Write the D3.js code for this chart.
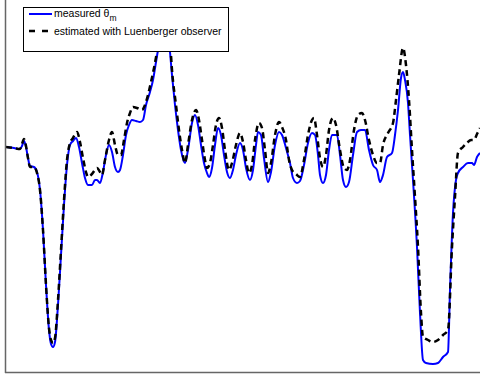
<!DOCTYPE html>
<html>
<head>
<meta charset="utf-8">
<script src="https://cdn.jsdelivr.net/npm/d3@7"></script>
<style>
  html, body { margin: 0; padding: 0; background: #fff; }
  svg { display: block; }
</style>
</head>
<body>
<svg id="svg"></svg>
<script>
// sample index and angle values
const measuredT = [6,14,20,22,24,26,28,30,34,37,40,43,46,49,51,53,55,58,61,64,67,70,73,76,79,82,85,88,92,95,97,100,103,106,109,112,115,118,120,123,126,129,132,136,140,143,146,150,153,156,158,162,165,168,170,172,175,178,181,185,188,192,195,198,201,204,207,209,212,215,218,221,224,227,230,233,236,240,243,246,250,253,256,258,261,264,268,271,275,279,282,286,290,293,297,300,304,308,312,315,318,320,323,326,329,332,337,340,343,346,349,353,357,361,365,369,373,377,380,383,387,392,395,398,401,403,405,408,410,413,417,420,423,426,433,438,443,448,450,453,456,458,463,468,472,474,477,480];
const measuredTheta = [225,224,223,226,231,225,214,206,205,200,182,142,87,42,28,25,30,67,117,167,207,227,231,234,225,209,194,187,187,192,192,189,200,217,227,220,205,200,202,217,237,247,252,251,250,252,267,280,292,310,322,347,357,342,320,297,267,242,222,209,222,249,257,247,227,209,199,195,204,227,244,237,217,200,194,202,217,229,222,204,192,202,227,240,237,214,190,200,227,240,237,224,209,194,189,191,207,229,239,237,217,197,189,197,222,237,237,217,192,185,190,217,240,242,242,222,207,202,190,197,215,219,237,262,294,300,292,269,237,192,125,59,12,9,8,9,15,20,82,159,192,199,205,209,209,207,215,219];

const estimatedT = [6,14,20,22,24,26,28,30,34,37,40,43,46,49,51,53,55,58,61,64,67,70,73,77,80,83,86,88,92,97,100,102,105,109,112,115,118,121,124,127,130,133,137,142,145,148,151,154,157,162,166,170,172,176,179,182,185,188,192,196,199,202,205,207,210,213,216,219,222,225,229,232,236,240,243,246,249,252,255,259,262,265,268,271,275,279,282,286,289,292,296,300,304,308,312,314,317,320,323,326,329,333,336,340,344,347,350,354,358,362,365,369,373,377,380,383,388,393,396,399,403,406,409,412,415,418,421,423,428,433,438,443,448,452,455,458,463,467,471,474,477,480];
const estimatedTheta = [225,224,223,228,233,226,214,205,205,199,182,142,87,44,32,29,34,72,122,172,212,229,234,240,230,214,200,195,198,204,200,197,212,232,240,227,217,217,232,249,259,265,264,262,267,277,290,304,320,347,357,332,302,267,242,222,209,227,252,262,252,232,212,204,209,227,247,254,244,222,202,209,227,239,230,212,199,207,232,249,244,222,199,209,237,250,245,232,212,202,198,195,212,237,252,254,237,214,205,217,242,254,247,222,204,202,212,242,257,259,252,232,217,209,209,227,239,249,272,297,324,307,272,222,175,125,59,35,32,30,32,37,42,125,175,219,225,229,232,232,238,244];

const legendLabels = ["measured θ", "estimated with Luenberger observer"];

const layout = {width: 480, height: 381, left: 6, right: 480, top: 0, bottom: 372};

const svg = d3.select("#svg")
  .attr("width", layout.width)
  .attr("height", layout.height);

const xScale = d3.scaleLinear()
  .domain([6, 480])
  .range([layout.left, layout.right]);

const yScale = d3.scaleLinear()
  .domain([0, 372])
  .range([layout.bottom, layout.bottom - 372]);

svg.append("defs").append("clipPath")
  .attr("id", "plotClip")
  .append("rect")
  .attr("x", layout.left)
  .attr("y", 0)
  .attr("width", layout.right - layout.left)
  .attr("height", layout.bottom);

const line = d3.line()
  .x(d => xScale(d[0]))
  .y(d => yScale(d[1]))
  .curve(d3.curveMonotoneX);

const plot = svg.append("g").attr("clip-path", "url(#plotClip)");

plot.append("path")
  .datum(d3.zip(measuredT, measuredTheta))
  .attr("d", line)
  .attr("fill", "none")
  .attr("stroke", "#0000ff")
  .attr("stroke-width", 2)
  .attr("stroke-linejoin", "round");

plot.append("path")
  .datum(d3.zip(estimatedT, estimatedTheta))
  .attr("d", line)
  .attr("fill", "none")
  .attr("stroke", "#000")
  .attr("stroke-width", 2.5)
  .attr("stroke-dasharray", "6,4");

// axes box (only left and bottom visible)
svg.append("line")
  .attr("x1", 5.5).attr("x2", 5.5)
  .attr("y1", 0).attr("y2", 373)
  .attr("stroke", "#666").attr("stroke-width", 1.5);
svg.append("line")
  .attr("x1", 5).attr("x2", 480)
  .attr("y1", 372.5).attr("y2", 372.5)
  .attr("stroke", "#666").attr("stroke-width", 1.5);

// legend
const legend = svg.append("g");
legend.append("rect")
  .attr("x", 23.5).attr("y", 7.5)
  .attr("width", 205).attr("height", 44)
  .attr("fill", "#fff")
  .attr("stroke", "#000")
  .attr("stroke-width", 1);

legend.append("line")
  .attr("x1", 29).attr("x2", 52)
  .attr("y1", 14).attr("y2", 14)
  .attr("stroke", "#0000ff").attr("stroke-width", 2);
legend.append("line")
  .attr("x1", 29).attr("x2", 52)
  .attr("y1", 31).attr("y2", 31)
  .attr("stroke", "#000").attr("stroke-width", 2.5)
  .attr("stroke-dasharray", "6,7");

const t1 = legend.append("text")
  .attr("x", 54).attr("y", 17)
  .attr("font-family", "Liberation Sans, Arial, sans-serif")
  .attr("font-size", 10.5)
  .text(legendLabels[0]);
t1.append("tspan")
  .attr("dy", 3.5)
  .attr("font-size", 8.5)
  .text("m");

legend.append("text")
  .attr("x", 54).attr("y", 35)
  .attr("font-family", "Liberation Sans, Arial, sans-serif")
  .attr("font-size", 10.5)
  .text(legendLabels[1]);
</script>
</body>
</html>
